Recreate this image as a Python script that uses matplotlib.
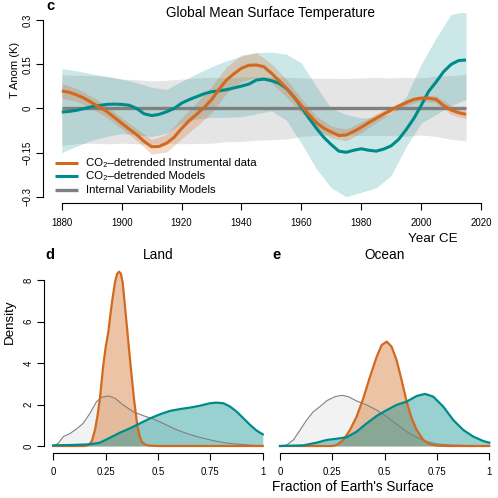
import numpy as np
import matplotlib
matplotlib.use('Agg')
import matplotlib.pyplot as plt
from matplotlib.lines import Line2D

plt.rcParams['font.family'] = ['Liberation Sans', 'DejaVu Sans']
plt.rcParams['mathtext.fontset'] = 'custom'
plt.rcParams['mathtext.rm'] = 'Liberation Sans'
plt.rcParams['mathtext.default'] = 'regular'

# ---------------- data: panel c (Global Mean Surface Temperature) ----------------
years = np.arange(1880, 2015.01, 2.5)
instrumental = [0.060, 0.055, 0.046, 0.035, 0.020, 0.005, -0.010, -0.030, -0.050, -0.070,
                -0.089, -0.112, -0.130, -0.129, -0.118, -0.098, -0.068, -0.042, -0.020, 0.003,
                0.030, 0.065, 0.097, 0.118, 0.137, 0.147, 0.148, 0.142, 0.120, 0.095,
                0.069, 0.040, 0.010, -0.020, -0.048, -0.067, -0.080, -0.092, -0.090, -0.078,
                -0.064, -0.048, -0.033, -0.019, -0.005, 0.008, 0.020, 0.031, 0.035, 0.035,
                0.031, 0.010, -0.005, -0.014, -0.020]
models = [-0.012, -0.010, -0.006, 0.000, 0.006, 0.010, 0.014, 0.015, 0.014, 0.011,
          0.000, -0.018, -0.024, -0.020, -0.011, 0.000, 0.018, 0.030, 0.040, 0.050,
          0.057, 0.060, 0.064, 0.070, 0.076, 0.083, 0.097, 0.100, 0.095, 0.086,
          0.068, 0.040, 0.005, -0.032, -0.067, -0.098, -0.123, -0.145, -0.149, -0.142,
          -0.137, -0.142, -0.145, -0.138, -0.127, -0.105, -0.072, -0.035, 0.010, 0.058,
          0.090, 0.125, 0.150, 0.163, 0.165]
internal = [0.0] * len(years)

band_years = np.arange(1880, 2015.01, 5)
instr_halfwidth = [0.025, 0.022, 0.020, 0.020, 0.018, 0.020, 0.025, 0.030, 0.035, 0.040,
                   0.045, 0.045, 0.045, 0.042, 0.032, 0.030, 0.025, 0.022, 0.020, 0.020,
                   0.018, 0.015, 0.012, 0.010, 0.010, 0.012, 0.015, 0.015]
models_hi = [0.135, 0.128, 0.118, 0.110, 0.100, 0.088, 0.072, 0.065, 0.092, 0.118,
             0.142, 0.162, 0.178, 0.190, 0.192, 0.185, 0.155, 0.075, 0.000, -0.020,
             -0.032, -0.030, -0.020, 0.040, 0.150, 0.240, 0.320, 0.330]
models_lo = [-0.150, -0.128, -0.108, -0.095, -0.085, -0.090, -0.095, -0.085, -0.050, -0.035,
             -0.030, -0.030, -0.028, -0.018, -0.008, -0.040, -0.118, -0.205, -0.270, -0.300,
             -0.285, -0.270, -0.228, -0.130, -0.050, -0.020, 0.010, 0.030]
internal_hi = [0.115, 0.113, 0.112, 0.108, 0.100, 0.098, 0.094, 0.096, 0.100, 0.104,
               0.106, 0.105, 0.107, 0.108, 0.107, 0.106, 0.104, 0.103, 0.103, 0.102,
               0.104, 0.106, 0.104, 0.106, 0.104, 0.110, 0.112, 0.116]
internal_lo = [-0.125, -0.120, -0.118, -0.120, -0.118, -0.120, -0.121, -0.118, -0.120, -0.119,
               -0.118, -0.113, -0.112, -0.108, -0.106, -0.104, -0.095, -0.092, -0.090, -0.090,
               -0.092, -0.092, -0.092, -0.094, -0.090, -0.095, -0.105, -0.110]

x_ticks_c = [1880, 1900, 1920, 1940, 1960, 1980, 2000, 2020]
y_ticks_c = [-0.3, -0.15, 0, 0.15, 0.3]
y_ticklabels_c = ['\u22120.3', '\u22120.15', '0', '0.15', '0.3']
legend_labels = ['CO\u2082\u2013detrended Instrumental data',
                 'CO\u2082\u2013detrended Models',
                 'Internal Variability Models']

# ---------------- data: panels d/e (density of fraction of surface) ----------------
land_instr_x = [0, 0.15, 0.17, 0.185, 0.2, 0.212, 0.223, 0.239, 0.251, 0.263, 0.275, 0.283,
                0.295, 0.305, 0.314, 0.323, 0.331, 0.339, 0.354, 0.369, 0.385, 0.401, 0.412,
                0.422, 0.44, 0.46, 0.5, 1.0]
land_instr_y = [0, 0, 0.05, 0.25, 0.8, 1.5, 2.3, 3.9, 4.8, 5.5, 6.5, 7.1,
                7.9, 8.3, 8.4, 8.3, 7.9, 7.1, 5.5, 3.9, 2.3, 1.0, 0.5,
                0.21, 0.06, 0.02, 0, 0]
land_models_x = [0, 0.096, 0.175, 0.223, 0.271, 0.318, 0.366, 0.414, 0.462, 0.51, 0.557,
                 0.605, 0.653, 0.70, 0.748, 0.78, 0.812, 0.844, 0.876, 0.908, 0.94, 0.971, 1.0]
land_models_y = [0.03, 0.05, 0.08, 0.16, 0.40, 0.64, 0.85, 1.09, 1.33, 1.53, 1.69,
                 1.78, 1.85, 1.94, 2.06, 2.09, 2.06, 1.90, 1.65, 1.33, 1.01, 0.74, 0.56]
land_internal_x = [0, 0.024, 0.048, 0.08, 0.111, 0.143, 0.175, 0.207, 0.231, 0.263, 0.295,
                   0.334, 0.382, 0.43, 0.478, 0.525, 0.573, 0.621, 0.669, 0.717, 0.764,
                   0.828, 0.892, 0.955, 1.0]
land_internal_y = [0, 0.13, 0.45, 0.60, 0.82, 1.09, 1.57, 2.14, 2.35, 2.41, 2.30,
                   1.98, 1.65, 1.46, 1.30, 1.09, 0.85, 0.66, 0.50, 0.37, 0.26,
                   0.14, 0.08, 0.03, 0.02]

ocean_instr_x = [0, 0.25, 0.271, 0.303, 0.334, 0.366, 0.398, 0.43, 0.462, 0.486, 0.51, 0.533,
                 0.557, 0.581, 0.605, 0.629, 0.653, 0.685, 0.717, 0.748, 0.8, 1.0]
ocean_instr_y = [0, 0, 0.05, 0.29, 0.77, 1.41, 2.30, 3.34, 4.30, 4.87, 5.03, 4.79,
                 4.14, 3.18, 2.14, 1.33, 0.77, 0.29, 0.08, 0.02, 0, 0]
ocean_models_x = [0, 0.111, 0.175, 0.223, 0.271, 0.318, 0.366, 0.414, 0.462, 0.51, 0.557,
                  0.605, 0.653, 0.693, 0.732, 0.78, 0.828, 0.876, 0.924, 0.971, 1.0]
ocean_models_y = [0.0, 0.03, 0.16, 0.29, 0.35, 0.42, 0.69, 1.09, 1.45, 1.73, 1.98,
                  2.14, 2.41, 2.51, 2.38, 1.90, 1.25, 0.77, 0.45, 0.24, 0.16]
ocean_internal_x = [0, 0.032, 0.064, 0.096, 0.127, 0.159, 0.191, 0.223, 0.263, 0.295, 0.326,
                    0.366, 0.414, 0.462, 0.51, 0.557, 0.605, 0.653, 0.701, 0.748, 0.812,
                    0.908, 1.0]
ocean_internal_y = [0, 0.05, 0.29, 0.77, 1.25, 1.65, 1.90, 2.18, 2.38, 2.44, 2.38,
                    2.17, 1.98, 1.73, 1.41, 1.06, 0.69, 0.42, 0.21, 0.10, 0.05,
                    0.02, 0.02]

x_ticks_de = [0, 0.25, 0.5, 0.75, 1]
x_ticklabels_de = ['0', '0.25', '0.5', '0.75', '1']
y_ticks_d = [0, 2, 4, 6, 8]

# ---------------- styling ----------------
ORANGE = '#D2691E'
TEAL = '#008B8B'
GREY = '#808080'

W = H = 498
fig = plt.figure(figsize=(W / 100, H / 100), dpi=100)


def px_axes(left, right, top, bottom):
    return fig.add_axes([left / W, 1 - bottom / H, (right - left) / W, (bottom - top) / H])


def ftext(x, y, s, **kw):
    return fig.text(x / W, 1 - y / H, s, **kw)


def r_style(ax, xb, yb=None):
    ax.spines['top'].set_visible(False)
    ax.spines['right'].set_visible(False)
    ax.spines['bottom'].set_bounds(*xb)
    ax.spines['bottom'].set_linewidth(0.8)
    if yb is None:
        ax.spines['left'].set_visible(False)
        ax.tick_params(axis='y', left=False, labelleft=False)
    else:
        ax.spines['left'].set_bounds(*yb)
        ax.spines['left'].set_linewidth(0.8)
    ax.tick_params(direction='out', length=5, width=0.8, labelsize=6.9, colors='black')
    ax.tick_params(axis='x', pad=5.5)
    ax.tick_params(axis='y', pad=2.5)
    ax.patch.set_alpha(0)


# ---- panel c ----
axc = px_axes(43, 483, 13, 203)
sc = 419.2 / 140
axc.set_xlim(1880 - (61.8 - 43) / sc, 1880 + (483 - 61.8) / sc)
axc.set_ylim(-0.3 - 6.3 / 294, 0.3 + 7.3 / 294)

inst_c = np.array(instrumental)[::2]
hw = np.array(instr_halfwidth)
axc.fill_between(band_years, internal_lo, internal_hi, color=GREY, alpha=0.2, lw=0)
axc.fill_between(band_years, models_lo, models_hi, color=TEAL, alpha=0.2, lw=0)
axc.fill_between(band_years, inst_c - hw, inst_c + hw, color=ORANGE, alpha=0.25, lw=0)
axc.plot(years, internal, color=GREY, lw=2.4, solid_capstyle='butt')
axc.plot(years, models, color=TEAL, lw=2.2, solid_capstyle='butt')
axc.plot(years, instrumental, color=ORANGE, lw=2.2, solid_capstyle='butt')

r_style(axc, (1880, 2020), (-0.3, 0.3))
axc.set_xticks(x_ticks_c)
axc.set_yticks(y_ticks_c)
axc.set_yticklabels(y_ticklabels_c, rotation=90, va='center')

ftext(271, 17.5, 'Global Mean Surface Temperature', ha='center', va='baseline', fontsize=9.8)
ftext(46, 10.5, 'c', ha='left', va='baseline', fontsize=10.5, fontweight='bold')
ftext(15, 69.5, 'T Anom (K)', ha='center', va='center', rotation=90, fontsize=8.0)
ftext(457.5, 241.5, 'Year CE', ha='right', va='baseline', fontsize=9.6)

# legend (manual, R style)
leg_rows = [(163.0, ORANGE, 2.2), (175.8, TEAL, 2.2), (189.8, GREY, 2.4)]
for (yy, col, lw), lab in zip(leg_rows, legend_labels):
    fig.add_artist(Line2D([55 / W, 78 / W], [1 - yy / H, 1 - yy / H], color=col, lw=lw,
                          solid_capstyle='butt'))
    ftext(86, yy, lab, ha='left', va='center', fontsize=8.2)

# ---- panels d / e ----
ylim_de = (-(452.7 - 446) / 20.75, (446 - 264) / 20.75)
axd = px_axes(44.3, 272, 264, 452.7)
axe = px_axes(271.1, 498.5, 264, 452.7)
for ax, left_px, one_px in [(axd, 53.2, 262.8), (axe, 280.0, 489.3)]:
    s = one_px - left_px
    l_ax = ax.get_position().x0 * W
    r_ax = ax.get_position().x1 * W
    ax.set_xlim(-(left_px - l_ax) / s, 1 + (r_ax - one_px) / s)
    ax.set_ylim(*ylim_de)

panels = [
    (axd, land_internal_x, land_internal_y, land_instr_x, land_instr_y, land_models_x, land_models_y),
    (axe, ocean_internal_x, ocean_internal_y, ocean_instr_x, ocean_instr_y, ocean_models_x, ocean_models_y),
]
for ax, gx, gy, ox, oy, tx, ty in panels:
    ax.fill_between(gx, 0, gy, color=GREY, alpha=0.1, lw=0)
    ax.plot(gx, gy, color=GREY, lw=0.8)
    ax.fill_between(ox, 0, oy, color=ORANGE, alpha=0.4, lw=0)
    ax.plot(ox, oy, color=ORANGE, lw=1.6)
    ax.fill_between(tx, 0, ty, color=TEAL, alpha=0.4, lw=0)
    ax.plot(tx, ty, color=TEAL, lw=1.6)
    ax.set_xticks(x_ticks_de)
    ax.set_xticklabels(x_ticklabels_de)

r_style(axd, (0, 1), (0, 8))
r_style(axe, (0, 1), None)
axd.set_yticks(y_ticks_d)
axd.set_yticklabels([str(v) for v in y_ticks_d], rotation=90, va='center')

ftext(50, 255, 'd', ha='center', va='center', fontsize=10.5, fontweight='bold')
ftext(276, 255, 'e', ha='center', va='center', fontsize=10.5, fontweight='bold')
ftext(158, 255, 'Land', ha='center', va='center', fontsize=9.8)
ftext(385, 255, 'Ocean', ha='center', va='center', fontsize=9.8)
ftext(10, 321.7, 'Density', ha='center', va='center', rotation=90, fontsize=9.6)
ftext(352.8, 487.3, "Fraction of Earth's Surface", ha='center', va='center', fontsize=9.8)

fig.savefig('out.png', dpi=100)
